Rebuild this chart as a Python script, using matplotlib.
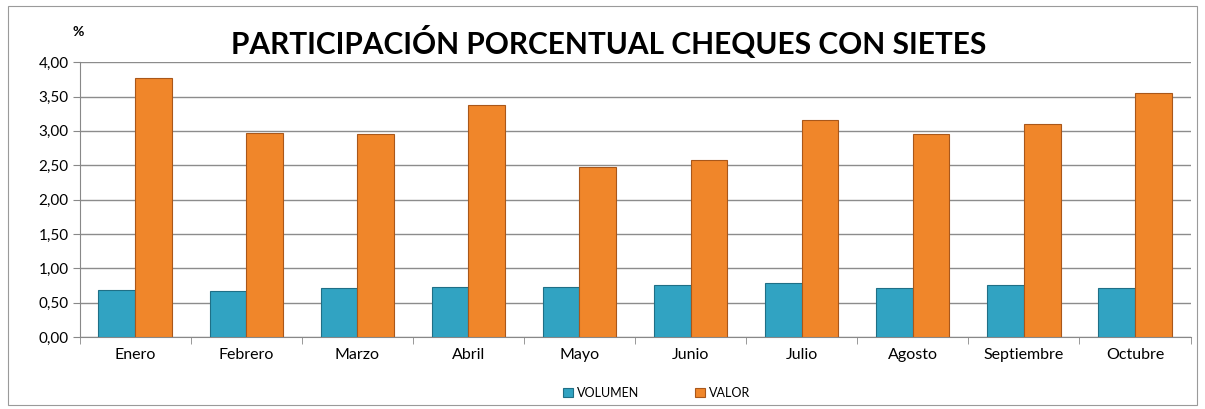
import numpy as np
import matplotlib.pyplot as plt
from matplotlib.patches import Rectangle

meses = ["Enero", "Febrero", "Marzo", "Abril", "Mayo", "Junio",
         "Julio", "Agosto", "Septiembre", "Octubre"]
volumen = [0.69, 0.67, 0.71, 0.73, 0.73, 0.76, 0.78, 0.72, 0.76, 0.71]
valor = [3.77, 2.97, 2.95, 3.37, 2.47, 2.57, 3.16, 2.95, 3.10, 3.55]
y_ticks = [0, 0.5, 1.0, 1.5, 2.0, 2.5, 3.0, 3.5, 4.0]

plt.rcParams["font.family"] = ["Lato", "DejaVu Sans"]

fig = plt.figure(figsize=(12.05, 4.09), dpi=100, facecolor="white")
fig.patches.append(Rectangle((0.007, 0.01), 0.986, 0.975, transform=fig.transFigure,
                             fill=False, edgecolor="#9a9a9a", linewidth=0.8))
ax = fig.add_axes([0.066, 0.176, 0.922, 0.672])

x = np.arange(len(meses))
w = 0.33
ax.bar(x - w / 2, volumen, w, color="#31a3c2", edgecolor="#1f6f86",
       linewidth=0.8, label="VOLUMEN", zorder=3)
ax.bar(x + w / 2, valor, w, color="#f0862a", edgecolor="#a9571a",
       linewidth=0.8, label="VALOR", zorder=3)

ax.set_xlim(-0.5, len(meses) - 0.5)
ax.set_ylim(0, 4)
ax.set_yticks(y_ticks)
ax.set_yticklabels([f"{v:.2f}".replace(".", ",") for v in y_ticks], fontsize=11)
ax.set_xticks(x)
ax.set_xticklabels(meses, fontsize=11.5)
ax.set_xticks(np.arange(len(meses) + 1) - 0.5, minor=True)
ax.tick_params(axis="x", which="major", length=0, pad=8)
ax.tick_params(axis="x", which="minor", length=5, color="#888888")
ax.tick_params(axis="y", length=5, color="#888888", pad=3)

ax.grid(axis="y", color="#8c8c8c", linewidth=1.0, zorder=0)
for s in ["top", "right"]:
    ax.spines[s].set_visible(False)
for s in ["left", "bottom"]:
    ax.spines[s].set_color("#888888")

fig.text(0.505, 0.895, "PARTICIPACIÓN PORCENTUAL CHEQUES CON SIETES",
         ha="center", va="center", fontsize=21.5, fontweight="bold")
fig.text(0.065, 0.922, "%", ha="center", va="center", fontsize=10, fontweight="bold")

fig.legend(loc="center", bbox_to_anchor=(0.545, 0.04), ncol=2, frameon=False,
           fontsize=9, handlelength=0.8, handleheight=0.8, columnspacing=4.5,
           handletextpad=0.3)

fig.savefig("out.png", dpi=100, facecolor="white")
